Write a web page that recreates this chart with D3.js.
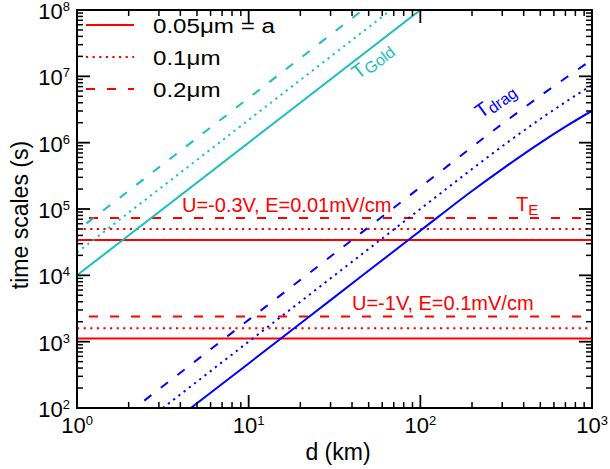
<!DOCTYPE html>
<html><head><meta charset="utf-8">
<script src="https://cdn.jsdelivr.net/npm/d3@7"></script>
<style>body{margin:0;background:#fff} svg{display:block} text{font-family:"Liberation Sans",Arial,sans-serif}</style>
</head><body><svg id="c" width="610" height="469"></svg>
<script>
// ---- data ----
const xDomain = [1, 1000];
const yDomain = [1e2, 1e8];
const xTickValues = [1, 10, 100, 1000];
const yTickValues = [1e2, 1e3, 1e4, 1e5, 1e6, 1e7, 1e8];
const sizeLabels = ["0.05μm = a", "0.1μm", "0.2μm"];
const sizeStyles = ["solid", "dotted", "dashed"];

// T_Gold (cyan)
const goldD_005 = [1, 100],  goldT_005 = [1.0e4, 1e8];
const goldD_01  = [1, 67.4], goldT_01  = [2.2e4, 1e8];
const goldD_02  = [1, 46.1], goldT_02  = [4.7e4, 1e8];

// T_drag (blue)
const dragD_005 = [4.6, 10, 30, 100, 200, 316, 500, 708, 1000];
const dragT_005 = [100, 470, 4230, 4.7e4, 1.87e5, 4.4e5, 9.95e5, 1.77e6, 3.03e6];
const dragD_01  = [3.16, 10, 100, 200, 316, 500, 708, 1000];
const dragT_01  = [100, 1000, 1.0e5, 4.0e5, 9.75e5, 2.27e6, 4.17e6, 7.4e6];
const dragD_02  = [2.17, 10, 100, 316, 500, 708, 1000];
const dragT_02  = [100, 2130, 2.13e5, 2.12e6, 5.07e6, 9.6e6, 1.78e7];

// T_E (red, horizontal)
const tE_high = [3.4e4, 5.0e4, 7.3e4];   // U=-0.3V, E=0.01mV/cm
const tE_low  = [1.12e3, 1.6e3, 2.4e3];  // U=-1V, E=0.1mV/cm

// ---- layout ----
const L = 77, R = 592, T = 10, B = 408;
const svg = d3.select("#c");
const x = d3.scaleLog().domain(xDomain).range([L, R]);
const y = d3.scaleLog().domain(yDomain).range([B, T]);

const RED = "#ff0000", BLUE = "#0000ff", CYAN = "#1abfbf";
const dashFor = s => s === "dotted" ? "2.2,4.4" : s === "dashed" ? "9,12" : null;

svg.append("defs").append("clipPath").attr("id", "clip")
  .append("rect").attr("x", L).attr("y", T).attr("width", R - L).attr("height", B - T);
const plot = svg.append("g").attr("clip-path", "url(#clip)");

const line = d3.line().x(p => x(p[0])).y(p => y(p[1])).curve(d3.curveMonotoneX);
function drawSeries(ds, ts, color, style) {
  const pts = ds.map((d, i) => [d, ts[i]]);
  plot.append("path").attr("d", line(pts)).attr("fill", "none")
    .attr("stroke", color).attr("stroke-width", 2)
    .attr("stroke-dasharray", dashFor(style))
    .attr("stroke-dashoffset", style === "dashed" ? 9 : 0);
}
[tE_high, tE_low].forEach(vals => vals.forEach((v, i) =>
  drawSeries(xDomain, [v, v], RED, sizeStyles[i])));
drawSeries(goldD_005, goldT_005, CYAN, "solid");
drawSeries(goldD_01, goldT_01, CYAN, "dotted");
drawSeries(goldD_02, goldT_02, CYAN, "dashed");
drawSeries(dragD_005, dragT_005, BLUE, "solid");
drawSeries(dragD_01, dragT_01, BLUE, "dotted");
drawSeries(dragD_02, dragT_02, BLUE, "dashed");

// ---- axes / frame ----
const ax = svg.append("g").attr("stroke", "#000");
function minors(dom) {
  const out = [];
  for (let k = Math.log10(dom[0]); k < Math.log10(dom[1]); k++)
    for (let m = 2; m <= 9; m++) out.push(m * Math.pow(10, k));
  return out;
}
const MAJ = 13, MIN = 6;
xTickValues.forEach(v => {
  ax.append("line").attr("x1", x(v)).attr("x2", x(v)).attr("y1", B).attr("y2", B - MAJ).attr("stroke-width", 1.8);
  ax.append("line").attr("x1", x(v)).attr("x2", x(v)).attr("y1", T).attr("y2", T + MAJ).attr("stroke-width", 1.8);
});
minors(xDomain).forEach(v => {
  ax.append("line").attr("x1", x(v)).attr("x2", x(v)).attr("y1", B).attr("y2", B - MIN).attr("stroke-width", 1.5);
  ax.append("line").attr("x1", x(v)).attr("x2", x(v)).attr("y1", T).attr("y2", T + MIN).attr("stroke-width", 1.5);
});
yTickValues.forEach(v => {
  ax.append("line").attr("y1", y(v)).attr("y2", y(v)).attr("x1", L).attr("x2", L + MAJ).attr("stroke-width", 1.8);
  ax.append("line").attr("y1", y(v)).attr("y2", y(v)).attr("x1", R).attr("x2", R - MAJ).attr("stroke-width", 1.8);
});
minors(yDomain).forEach(v => {
  ax.append("line").attr("y1", y(v)).attr("y2", y(v)).attr("x1", L).attr("x2", L + MIN).attr("stroke-width", 1.5);
  ax.append("line").attr("y1", y(v)).attr("y2", y(v)).attr("x1", R).attr("x2", R - MIN).attr("stroke-width", 1.5);
});
svg.append("rect").attr("x", L).attr("y", T).attr("width", R - L).attr("height", B - T)
  .attr("fill", "none").attr("stroke", "#000").attr("stroke-width", 2);

// tick labels
function powLabel(g, v) {
  g.append("tspan").text("10");
  g.append("tspan").text(Math.round(Math.log10(v))).attr("font-size", 13).attr("dy", -8);
}
yTickValues.forEach(v => {
  const t = svg.append("text").attr("x", 70).attr("y", y(v) + 9).attr("text-anchor", "end").attr("font-size", 22);
  powLabel(t, v);
});
xTickValues.forEach(v => {
  const t = svg.append("text").attr("x", x(v)).attr("y", 433).attr("text-anchor", "middle").attr("font-size", 22);
  powLabel(t, v);
});
// axis titles
svg.append("text").attr("x", 338).attr("y", 460).attr("text-anchor", "middle")
  .attr("font-size", 23).text("d (km)");
svg.append("text").attr("transform", `translate(28,${(T + B) / 2 + 6}) rotate(-90)`)
  .attr("text-anchor", "middle").attr("font-size", 23).text("time scales (s)");

// legend
const legY = [25, 57, 89];
sizeLabels.forEach((lab, i) => {
  svg.append("line").attr("x1", 86).attr("x2", 134).attr("y1", legY[i]).attr("y2", legY[i])
    .attr("stroke", RED).attr("stroke-width", 2).attr("stroke-dasharray", dashFor(sizeStyles[i]));
  svg.append("text").attr("transform", `translate(153,${legY[i] + 8}) scale(1.15,1)`)
    .attr("font-size", 21).attr("fill", "#000").text(lab);
});

// annotations
svg.append("text").attr("x", 182).attr("y", 212).attr("font-size", 20).attr("fill", RED).text("U=-0.3V, E=0.01mV/cm");
svg.append("text").attr("x", 352).attr("y", 310).attr("font-size", 20).attr("fill", RED).text("U=-1V, E=0.1mV/cm");
const te = svg.append("text").attr("x", 516).attr("y", 211).attr("font-size", 20).attr("fill", RED);
te.append("tspan").text("T");
te.append("tspan").text("E").attr("font-size", 15).attr("dy", 4);

const gold = svg.append("text").attr("transform", "translate(358,80) rotate(-37.5)").attr("font-size", 20).attr("fill", CYAN);
gold.append("tspan").text("T");
gold.append("tspan").text("Gold").attr("font-size", 16).attr("dy", 3);
const drag = svg.append("text").attr("transform", "translate(481,119) rotate(-36)").attr("font-size", 20).attr("fill", BLUE);
drag.append("tspan").text("T");
drag.append("tspan").text("drag").attr("font-size", 16).attr("dy", 3);
</script></body></html>
